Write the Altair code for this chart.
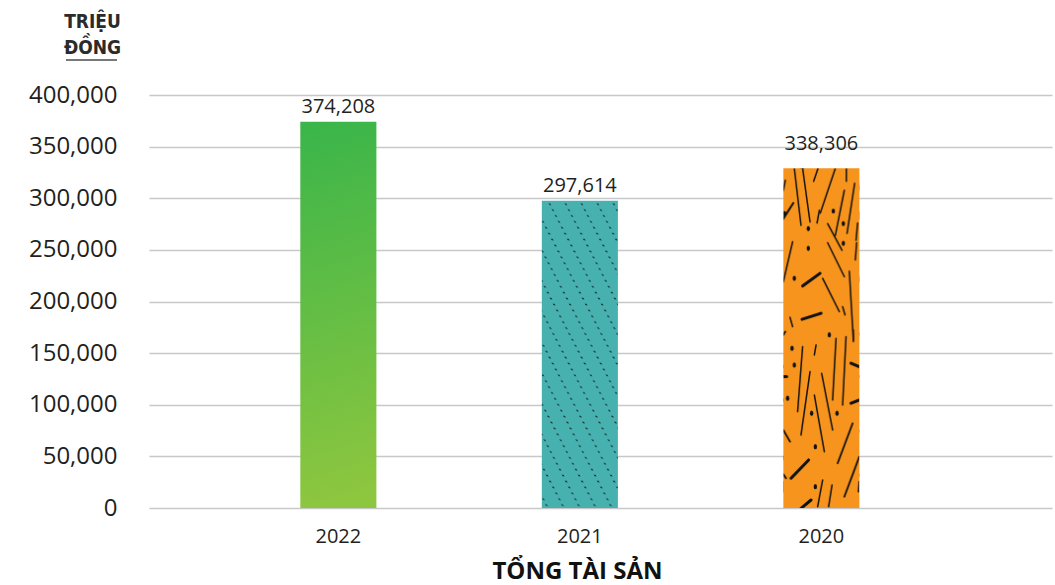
import altair as alt
import pandas as pd
from altair.utils.html import HTML_TEMPLATE

# ---- data ----
years = ["2022", "2021", "2020"]
label_values = [374208, 297614, 338306]      # printed value labels
bar_heights = [374208, 297614, 329000]       # bar heights as drawn in the picture
y_ticks = [0, 50000, 100000, 150000, 200000, 250000, 300000, 350000, 400000]

df = pd.DataFrame({"year": years, "bar": bar_heights, "label": label_values})

# ---- texture definitions (styling only) ----
stick_lines = [
    (11, 0, 17.7, 57, 1.5), (19.3, 0, 26.7, 53.7, 1.5), (34.7, 0, 30.3, 13, 1.5),
    (52, 0, 37, 44.7, 1.5), (63, 0, 63, 13, 1.5), (71.3, 15, 63.7, 65, 1.5),
    (61, 22, 52, 67, 1.5), (10, 34.7, 0, 50.3, 2.0), (36, 42, 33.7, 54.7, 1.5),
    (44.3, 55.3, 58.7, 82, 1.5), (74.3, 54.7, 72.7, 72, 1.5), (2, 12, 0, 22, 1.5),
    (9.3, 73.4, 0, 113.4, 1.5), (44.3, 74.4, 61, 108.4, 1.5), (73.3, 74.4, 72, 91.7, 1.5),
    (19.3, 117.7, 36.7, 105, 3.0), (39.3, 110, 56, 143.4, 1.5), (66, 103, 70, 171.7, 1.5),
    (59.3, 138.4, 61.7, 146.7, 1.5), (18.7, 151, 37.7, 145, 3.0), (6.7, 149, 9.3, 158.4, 1.5),
    (2, 163.4, 0, 166.7, 1.8), (70, 161.7, 70, 173.4, 1.5), (32.7, 176.7, 31, 186.7, 1.5),
    (19.3, 178.4, 14.3, 243.4, 1.5), (52.7, 170, 49.3, 231.7, 1.5), (62.7, 168.4, 59.3, 236.7, 1.5),
    (67.7, 195, 76, 198.4, 3.0), (0, 208.4, 3.3, 208.4, 3.0), (26.7, 203.4, 17.7, 266.7, 1.5),
    (38.3, 205, 49.3, 261.7, 1.5), (67.7, 235, 76, 231.7, 3.0), (31, 226.7, 41, 283.4, 1.5),
    (69.3, 255, 54.3, 295, 1.8), (0, 261.7, 6.7, 273.4, 1.8), (25.3, 291.7, 7.7, 310, 3.0),
    (0, 306, 2.7, 310, 1.8), (76, 288.4, 61, 328.4, 1.8), (39.3, 311.7, 34.3, 338.4, 1.5),
    (48.7, 316.7, 45.3, 338.4, 1.5), (27.7, 331.7, 17.7, 340, 3.0), (76, 313.4, 75.3, 323.4, 1.8),
]
stick_dots = [
    (1.3, 45.3), (50, 42.7), (25, 60.3), (60, 55.3), (25, 80), (60, 75), (11, 110),
    (46, 166.5), (8.7, 180), (11, 196.7), (4.3, 230), (28.3, 245), (53.7, 245),
    (32, 278.4), (32, 318.4),
]

lines_svg = "".join(
    f'<line x1="{a}" y1="{b}" x2="{c}" y2="{d}" stroke-width="{w}"/>'
    for a, b, c, d, w in stick_lines
)
dots_svg = "".join(f'<ellipse cx="{a}" cy="{b}" rx="1.7" ry="2.6"/>' for a, b in stick_dots)

DEFS = (
    '<svg width="0" height="0" style="position:absolute;left:0;top:0" aria-hidden="true"><defs>'
    '<pattern id="dots" patternUnits="userSpaceOnUse" width="16" height="5.9" '
    'patternTransform="skewX(27.5)">'
    '<rect width="16" height="5.9" fill="#47b1b0"/>'
    '<circle cx="8" cy="3" r="0.95" fill="#142626"/>'
    '</pattern>'
    '<pattern id="sticks" patternUnits="objectBoundingBox" x="0" y="0" width="1" height="1">'
    '<rect width="100" height="500" fill="#f7941d"/>'
    f'<g stroke="#111" stroke-linecap="round" fill="none">{lines_svg}</g>'
    f'<g fill="#111">{dots_svg}</g>'
    '</pattern>'
    '</defs></svg>'
)


class PatternTemplate:
    def render(self, **kw):
        return HTML_TEMPLATE.render(**kw).replace("<body>", "<body>\n" + DEFS, 1)


TEXT = "#231f20"

x_enc = alt.X(
    "year:N",
    sort=years,
    scale=alt.Scale(paddingInner=0.685, paddingOuter=0.712, align=0.44),
    axis=alt.Axis(
        labelAngle=0, labelFont="Open Sans", labelFontSize=20, labelColor=TEXT,
        labelPadding=18, ticks=False, domain=False,
        title="TỔNG TÀI SẢN", titleFont="Open Sans", titleFontSize=24,
        titleFontWeight="bold", titleColor="#111", titleX=428, titleY=70,
        titleAlign="center", titleBaseline="alphabetic", titleAnchor="start",
    ),
)

y_axis = alt.Axis(
    values=y_ticks, format=",d", labelFont="Open Sans", labelFontSize=24,
    labelColor=TEXT, labelPadding=32, ticks=False, domain=False,
    grid=True, gridColor="#c8c8c8", gridWidth=1.4,
    title=["TRIỆU", "ĐỒNG"], titleAngle=0, titleX=-57, titleY=-68,
    titleFont="DejaVu Sans Condensed, Liberation Sans Narrow, sans-serif",
    titleFontSize=19, titleFontWeight="bold", titleColor="#2b2b2b",
    titleAlign="center", titleBaseline="alphabetic", titleLineHeight=26,
)
y_scale = alt.Scale(domain=[0, 400000], nice=False, zero=True)

base = alt.Chart(df)

green = base.transform_filter(alt.datum.year == "2022").mark_bar(
    color=alt.Gradient(
        gradient="linear",
        stops=[alt.GradientStop(color="#39b54a", offset=0),
               alt.GradientStop(color="#8dc63f", offset=1)],
        x1=0, y1=0, x2=0.06, y2=1,
    )
).encode(x=x_enc, y=alt.Y("bar:Q", scale=y_scale, axis=y_axis))

teal = base.transform_filter(alt.datum.year == "2021").mark_bar(
    color="url(#dots)"
).encode(x=x_enc, y=alt.Y("bar:Q", scale=y_scale, axis=y_axis))

orange = base.transform_filter(alt.datum.year == "2020").mark_bar(
    color="url(#sticks)"
).encode(x=x_enc, y=alt.Y("bar:Q", scale=y_scale, axis=y_axis))

labels = base.mark_text(
    font="Open Sans", fontSize=20, color=TEXT, baseline="alphabetic", dy=-9
).encode(
    x=x_enc,
    y=alt.Y("label:Q", scale=y_scale, axis=y_axis),
    text=alt.Text("label:Q", format=","),
)

underline = alt.Chart(alt.Data(values=[{}])).mark_rule(
    color="#4d4d4d", strokeWidth=1.5
).encode(x=alt.value(-83), x2=alt.value(-32), y=alt.value(-35))

chart = alt.layer(green, teal, orange, labels, underline).properties(
    width=903, height=413,
    autosize=alt.AutoSizeParams(type="none"),
    padding={"left": 149, "top": 95, "right": 3, "bottom": 77},
    background="white",
).configure_view(stroke=None)

chart.save("out.html", embed_options={"renderer": "svg", "actions": False},
           template=PatternTemplate())
